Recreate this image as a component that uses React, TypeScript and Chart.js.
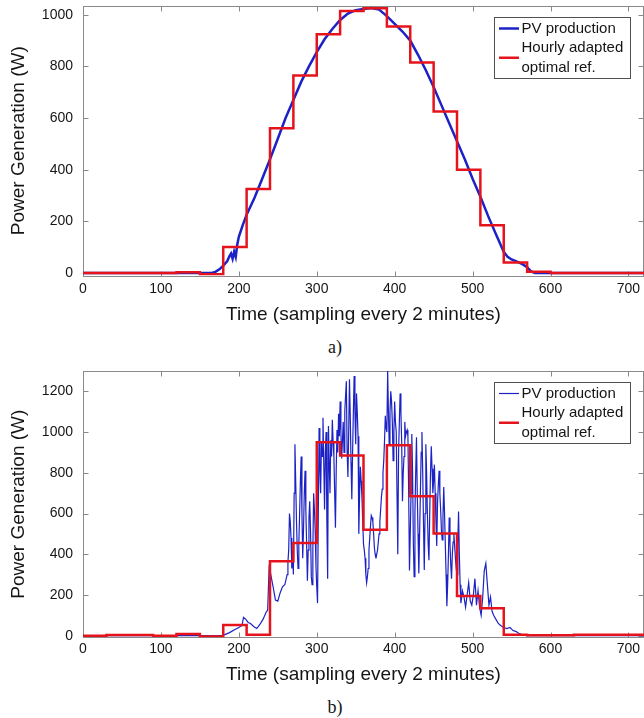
import React, { useEffect, useRef } from 'react';
import { Chart, registerables } from 'chart.js';

Chart.register(...registerables);

// ---------- data ----------
const xTickValues = [0, 100, 200, 300, 400, 500, 600, 700];
const yTickValuesA = [0, 200, 400, 600, 800, 1000];
const yTickValuesB = [0, 200, 400, 600, 800, 1000, 1200];

const xAxisTitle = 'Time (sampling every 2 minutes)';
const yAxisTitle = 'Power Generation (W)';
const pvLabel = 'PV production';
const refLabel = 'Hourly adapted\noptimal ref.';
const captionA = 'a)';
const captionB = 'b)';

// hour boundaries (one hour = 30 samples)
const hourStarts = [0, 30, 60, 90, 120, 150, 180, 210, 240, 270, 300, 330, 360, 390, 420, 450, 480, 510, 540, 570, 600, 630, 660, 690, 720];

const hourlyRefA = [0, 0, 0, 0, 3, -5, 100, 325, 560, 765, 925, 1015, 1025, 955, 815, 625, 400, 185, 40, 5, 0, 0, 0, 0];
const hourlyRefB = [0, 3, 3, 0, 8, -4, 52, 5, 365, 455, 950, 885, 520, 935, 685, 502, 195, 135, 4, 2, 2, 4, 4, 4];

// (a) clear day: [sample, W]
const pvSamplesA: [number, number][] = [
  [0, 0], [165, 0], [170, 4], [175, 14], [180, 28], [185, 45], [188, 65], [190, 75], [192, 55], [194, 82],
  [196, 62], [198, 110], [200, 140], [205, 185], [210, 225], [220, 290], [230, 365], [240, 440], [250, 520],
  [260, 600], [270, 670], [280, 740], [290, 800], [300, 855], [310, 905], [320, 945], [330, 980], [340, 1005],
  [350, 1018], [360, 1022], [370, 1026], [380, 1020], [390, 995], [400, 965], [410, 935], [420, 900], [430, 845],
  [440, 785], [450, 720], [460, 650], [470, 580], [480, 510], [490, 440], [500, 365], [510, 295], [520, 220],
  [530, 150], [540, 82], [545, 62], [550, 52], [560, 40], [565, 32], [570, 22], [575, 6], [580, 0], [720, 0],
];

// (b) cloudy day: [sample, W]
const pvSamplesB: [number, number][] = [
  [0, 0], [100, 0], [150, 0], [178, 0], [182, 5], [188, 15], [195, 30], [200, 40], [204, 50], [206, 90],
  [209, 80], [212, 65], [215, 60], [219, 45], [223, 35], [227, 55], [231, 80], [235, 115], [237, 125], [239, 350],
  [241, 300], [244, 240], [247, 175], [250, 170], [253, 210], [256, 240], [259, 250],
  [262, 300], [263, 360], [264, 420], [265, 600], [266, 560], [267, 480], [268, 330], [269, 420], [270, 300],
  [271, 700], [272, 940], [273, 760], [274, 560], [275, 420], [276, 330], [277, 450], [278, 600], [279, 760],
  [280, 880], [281, 600], [282, 380], [283, 520], [284, 700], [285, 810], [286, 620], [287, 450], [288, 270],
  [289, 420], [290, 580], [291, 660], [292, 520], [293, 290], [294, 250], [295, 420], [296, 700], [297, 620],
  [298, 520], [299, 340], [300, 240], [301, 160], [302, 600], [303, 1020], [304, 820], [305, 700], [306, 950],
  [307, 880], [308, 1070], [309, 850], [310, 620], [311, 900], [312, 1000], [313, 560], [314, 280], [315, 1030],
  [316, 850], [317, 700], [318, 960], [319, 880], [320, 1060], [321, 950], [322, 880], [323, 700], [324, 530],
  [325, 820], [326, 1010], [327, 900], [328, 1090], [329, 980], [330, 1150], [331, 1000], [332, 870], [333, 960],
  [334, 1050], [335, 900], [336, 1100], [337, 1180], [338, 1250], [339, 900], [340, 780], [341, 1000], [342, 1260],
  [343, 1080], [344, 850], [345, 670], [346, 900], [347, 1100], [348, 1275], [349, 1100], [350, 940], [351, 1190],
  [352, 1100], [353, 980], [354, 500], [355, 700], [356, 830], [357, 760], [358, 680], [359, 560], [360, 450],
  [361, 420], [362, 380], [363, 300], [364, 260], [365, 290], [366, 330], [367, 420], [368, 480], [369, 540],
  [370, 590], [371, 580], [372, 560], [373, 500], [374, 430], [375, 400], [376, 380], [377, 400], [378, 420],
  [379, 460], [380, 500], [381, 560], [382, 620], [383, 680], [384, 720], [385, 800], [386, 860], [387, 960],
  [388, 1080], [389, 1020], [390, 1000], [391, 1300], [392, 1100], [393, 940], [394, 1100], [395, 1200],
  [396, 1150], [397, 1050], [398, 860], [399, 1000], [400, 1150], [401, 1050], [402, 1000], [403, 700], [404, 400],
  [405, 900], [406, 1050], [407, 1190], [408, 1100], [409, 950], [410, 660], [411, 800], [412, 880], [413, 1050],
  [414, 980], [415, 1000], [416, 1010], [417, 980], [418, 700], [419, 320], [420, 500], [421, 700], [422, 990],
  [423, 800], [424, 450], [425, 290], [426, 600], [427, 800], [428, 975], [429, 700], [430, 500], [431, 306],
  [432, 500], [433, 700], [434, 900], [435, 1000], [436, 800], [437, 550], [438, 322], [439, 600], [440, 940],
  [441, 800], [442, 600], [443, 450], [444, 370], [445, 600], [446, 800], [447, 930], [448, 820], [449, 700],
  [450, 760], [451, 840], [452, 700], [453, 560], [454, 440], [455, 650], [456, 740], [457, 810], [458, 700],
  [459, 620], [460, 520], [461, 470], [462, 590], [463, 730], [464, 600], [465, 450], [466, 300], [467, 145],
  [468, 250], [469, 400], [470, 580], [471, 450], [472, 350], [473, 280], [474, 400], [475, 460], [476, 500],
  [477, 440], [478, 380], [479, 330], [480, 300], [481, 450], [482, 610], [483, 400], [484, 250], [485, 160],
  [487, 220], [489, 190], [491, 140], [493, 200], [495, 260], [497, 170], [499, 150], [501, 200], [503, 280],
  [505, 150], [507, 220], [509, 140], [511, 100], [513, 190], [515, 320], [517, 355], [519, 250], [521, 150],
  [523, 190], [525, 120], [527, 100], [530, 80], [533, 60], [536, 50], [540, 40], [544, 35], [548, 40],
  [552, 25], [556, 20], [560, 10], [565, 3], [570, 0], [720, 0],
];

// ---------- styling ----------
const FONT = '"Liberation Sans", Arial, sans-serif';
const TEXT = '#151515';
const BLUE = '#1c22c4';
const RED = '#e5141c';

const axesBoxPlugin = {
  id: 'axesBox',
  beforeDatasetsDraw(chart: any) {
    const { ctx, chartArea: a, scales } = chart;
    ctx.save();
    ctx.strokeStyle = '#8a8a8a';
    ctx.lineWidth = 1;
    const l = Math.round(a.left) + 0.5;
    const t = Math.round(a.top) + 0.5;
    const r = Math.round(a.right) - 0.5;
    const b = Math.round(a.bottom) + 0.5;
    ctx.strokeRect(l, t, r - l, b - t);
    const L = 5;
    ctx.beginPath();
    scales.x.ticks.forEach((tk: any) => {
      const px = Math.round(scales.x.getPixelForValue(tk.value)) + 0.5;
      ctx.moveTo(px, b);
      ctx.lineTo(px, b - L);
      ctx.moveTo(px, t);
      ctx.lineTo(px, t + L);
    });
    scales.y.ticks.forEach((tk: any) => {
      const py = Math.round(scales.y.getPixelForValue(tk.value)) + 0.5;
      ctx.moveTo(l, py);
      ctx.lineTo(l + L, py);
      ctx.moveTo(r, py);
      ctx.lineTo(r - L, py);
    });
    ctx.stroke();
    ctx.restore();
  },
};

const boxLegendPlugin = {
  id: 'boxLegend',
  afterDatasetsDraw(chart: any) {
    const { ctx, chartArea: a } = chart;
    const left = 494.5;
    const right = 630.5;
    const top = Math.round(a.top + 11) + 0.5;
    const height = 61;
    ctx.save();
    ctx.fillStyle = '#ffffff';
    ctx.fillRect(left, top, right - left, height);
    ctx.strokeStyle = '#505050';
    ctx.lineWidth = 1;
    ctx.strokeRect(left, top, right - left, height);
    ctx.font = `15px ${FONT}`;
    ctx.textBaseline = 'middle';
    ctx.textAlign = 'left';
    const rowH = 19.5;
    let y = top + 11;
    chart.data.datasets.forEach((ds: any) => {
      const lines = String(ds.label).split('\n');
      const ly = y + ((lines.length - 1) * rowH) / 2;
      ctx.strokeStyle = ds.borderColor;
      ctx.lineWidth = ds.borderWidth;
      ctx.beginPath();
      ctx.moveTo(499, ly);
      ctx.lineTo(519, ly);
      ctx.stroke();
      ctx.fillStyle = TEXT;
      lines.forEach((ln: string, k: number) => {
        ctx.fillText(ln, 521.5, y + k * rowH);
      });
      y += lines.length * rowH;
    });
    ctx.restore();
  },
};

type PanelCfg = {
  top: number;
  height: number;
  areaTop: number;
  areaBottom: number;
  tickPad: number;
  titlePad: number;
  yMin: number;
  yMax: number;
  yTicks: number[];
  pv: [number, number][];
  hourly: number[];
  pvWidth: number;
};

function Panel({ cfg }: { cfg: PanelCfg }) {
  const ref = useRef<HTMLCanvasElement>(null);
  useEffect(() => {
    const pvData = cfg.pv.map(([t, w]) => ({ x: t, y: w }));
    const refData = hourStarts.map((t, i) => ({ x: t, y: cfg.hourly[Math.min(i, cfg.hourly.length - 1)] }));
    const chart = new Chart(ref.current as HTMLCanvasElement, {
      type: 'line',
      data: {
        datasets: [
          {
            label: pvLabel,
            data: pvData,
            borderColor: BLUE,
            borderWidth: cfg.pvWidth,
            pointRadius: 0,
            tension: 0,
            order: 1,
          } as any,
          {
            label: refLabel,
            data: refData,
            borderColor: RED,
            borderWidth: 2.5,
            pointRadius: 0,
            stepped: 'before',
            order: 0,
          } as any,
        ],
      },
      options: {
        animation: false,
        responsive: false,
        devicePixelRatio: 1,
        parsing: false as any,
        layout: { padding: { top: cfg.areaTop, left: 0, right: 0, bottom: 0 } },
        plugins: {
          legend: { display: false },
          tooltip: { enabled: false },
        },
        scales: {
          x: {
            type: 'linear',
            min: 0,
            max: 720,
            afterBuildTicks: (s: any) => {
              s.ticks = xTickValues.map((v) => ({ value: v }));
            },
            afterFit: (s: any) => {
              s.height = cfg.height - cfg.areaBottom;
              s.paddingLeft = 0;
              s.paddingRight = 0;
            },
            grid: { display: false, drawTicks: false },
            border: { display: false },
            ticks: {
              font: { family: FONT, size: 14 },
              color: TEXT,
              padding: cfg.tickPad,
              maxRotation: 0,
              autoSkip: false,
              callback: (v: any) => String(v),
            },
            title: {
              display: true,
              text: xAxisTitle,
              font: { family: FONT, size: 19 },
              color: TEXT,
              padding: { top: 0, bottom: cfg.titlePad },
            },
          },
          y: {
            type: 'linear',
            min: cfg.yMin,
            max: cfg.yMax,
            afterBuildTicks: (s: any) => {
              s.ticks = cfg.yTicks.map((v) => ({ value: v }));
            },
            afterFit: (s: any) => {
              s.width = 83;
              s.paddingTop = 0;
              s.paddingBottom = 0;
            },
            grid: { display: false, drawTicks: false },
            border: { display: false },
            ticks: {
              font: { family: FONT, size: 14 },
              color: TEXT,
              padding: 10,
              autoSkip: false,
              callback: (v: any) => String(v),
            },
            title: {
              display: true,
              text: yAxisTitle,
              font: { family: FONT, size: 19 },
              color: TEXT,
              padding: { top: 7, bottom: 0 },
            },
          },
        },
      },
      plugins: [axesBoxPlugin, boxLegendPlugin],
    });
    return () => chart.destroy();
  }, []);
  return (
    <canvas
      ref={ref}
      width={644}
      height={cfg.height}
      style={{ position: 'absolute', left: 0, top: cfg.top, width: 644, height: cfg.height }}
    />
  );
}

const panelA: PanelCfg = {
  top: 0,
  height: 332,
  areaTop: 6,
  areaBottom: 275.5,
  tickPad: 5,
  titlePad: 5.6,
  yMin: -10,
  yMax: 1034,
  yTicks: yTickValuesA,
  pv: pvSamplesA,
  hourly: hourlyRefA,
  pvWidth: 2.5,
};

const panelB: PanelCfg = {
  top: 365,
  height: 332,
  areaTop: 6,
  areaBottom: 272.3,
  tickPad: 3,
  titlePad: 10.6,
  yMin: -8,
  yMax: 1300,
  yTicks: yTickValuesB,
  pv: pvSamplesB,
  hourly: hourlyRefB,
  pvWidth: 1.2,
};

const captionStyle: React.CSSProperties = {
  position: 'absolute',
  left: 285,
  width: 100,
  textAlign: 'center',
  fontFamily: '"Liberation Serif", "Times New Roman", serif',
  fontSize: 18,
  lineHeight: '20px',
  color: '#151515',
};

export default function App() {
  return (
    <div style={{ position: 'absolute', left: 0, top: 0, width: 644, height: 718, background: '#fff', overflow: 'hidden' }}>
      <Panel cfg={panelA} />
      <div style={{ ...captionStyle, top: 337 }}>{captionA}</div>
      <Panel cfg={panelB} />
      <div style={{ ...captionStyle, top: 697 }}>{captionB}</div>
    </div>
  );
}
